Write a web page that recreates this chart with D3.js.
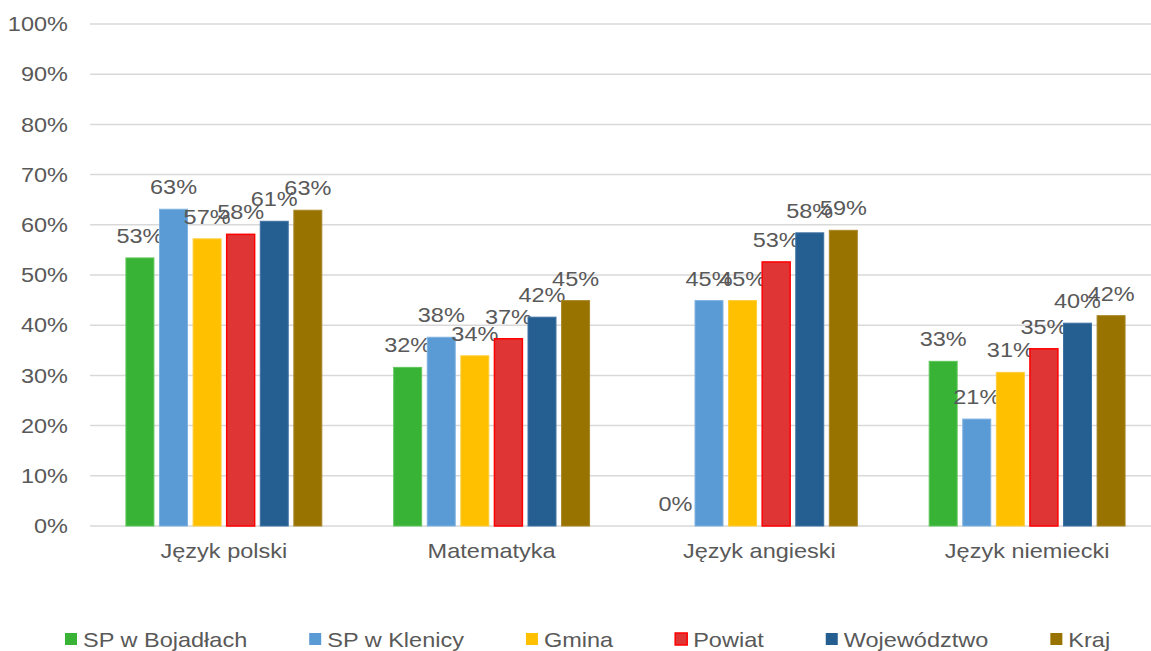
<!DOCTYPE html>
<html><head><meta charset="utf-8">
<script src="https://cdn.jsdelivr.net/npm/d3@7"></script>
<style>body{margin:0;background:#fff}svg{display:block;font-family:"Liberation Sans",Arial,sans-serif}</style>
</head><body><svg id="c" width="1151" height="651"></svg>
<script>
const categories = ["Język polski","Matematyka","Język angieski","Język niemiecki"];
const seriesNames = ["SP w Bojadłach","SP w Klenicy","Gmina","Powiat","Województwo","Kraj"];
const spBojadlach = [53.4, 31.6, 0, 32.8];
const spKlenica   = [63.1, 37.6, 44.9, 21.3];
const gmina       = [57.2, 33.9, 44.9, 30.6];
const powiat      = [58.1, 37.3, 52.6, 35.3];
const wojewodztwo = [60.7, 41.6, 58.4, 40.4];
const kraj        = [62.9, 44.9, 58.9, 41.9];
const yTicks = [0,10,20,30,40,50,60,70,80,90,100];
const fills   = ["#38b335","#5b9bd5","#ffc000","#e03535","#255e91","#997300"];
const strokes = ["#5fc65c","#7fb2e0","#ffcd3a","#ff0000","#3f72a3","#a8862a"];

(function(){
const series = [spBojadlach, spKlenica, gmina, powiat, wojewodztwo, kraj];
const svg = d3.select("#c");
const pLeft = 90, pRight = 1161, pTop = 24, pBottom = 526;
const SX = 1.12, FS = "21px";
const x0 = d3.scaleBand().domain(categories).range([pLeft, pRight]).paddingInner(0).paddingOuter(0);
const x1 = d3.scaleBand().domain(seriesNames).range([0, x0.bandwidth()]).paddingInner(0.167).paddingOuter(1.07);
const y = d3.scaleLinear().domain([0,100]).range([pBottom, pTop]);
const txt = "#595959";

svg.append("g").selectAll("line").data(yTicks).join("line")
  .attr("x1", pLeft).attr("x2", 1151).attr("y1", d=>y(d)).attr("y2", d=>y(d))
  .attr("stroke", "#d9d9d9").attr("stroke-width", 1.5);

const ya = svg.append("g").attr("transform", `translate(68,0)`)
  .call(d3.axisLeft(y).tickValues(yTicks).tickFormat(d=>d+"%").tickSize(0).tickPadding(0));
ya.select(".domain").remove();
ya.selectAll("text").attr("fill", txt).style("font-size",FS).style("font-family","Liberation Sans, Arial, sans-serif")
  .attr("x", 0).attr("transform", `scale(${SX},1)`);

const xa = svg.append("g").attr("transform", `translate(0,${pBottom})`)
  .call(d3.axisBottom(x0).tickSize(0).tickPadding(17));
xa.select(".domain").remove();
xa.selectAll("text").attr("fill", txt).style("font-size",FS).style("font-family","Liberation Sans, Arial, sans-serif")
  .attr("transform", `scale(${SX},1)`);

const groups = svg.append("g").selectAll("g").data(categories).join("g")
  .attr("transform", d=>`translate(${x0(d)},0)`);
groups.each(function(cat, ci){
  const g = d3.select(this);
  seriesNames.forEach((s, si)=>{
    const v = series[si][ci];
    if (v > 0) {
      g.append("rect").attr("x", x1(s)).attr("width", x1.bandwidth())
        .attr("y", y(v)).attr("height", y(0)-y(v))
        .attr("fill", fills[si]).attr("stroke", strokes[si]).attr("stroke-width", si===3?1.5:1);
    }
    g.append("text")
      .attr("transform", `translate(${x1(s)+x1.bandwidth()/2},${y(v)-15}) scale(${SX},1)`)
      .attr("text-anchor","middle").attr("fill", txt).style("font-size",FS)
      .text(Math.round(v)+"%");
  });
});

const lg = svg.append("g");
let lx = 65;
seriesNames.forEach((s, i)=>{
  lg.append("rect").attr("x", lx).attr("y", 633).attr("width", 12).attr("height", 12)
    .attr("fill", fills[i]).attr("stroke", i===3?"#ff0000":"none").attr("stroke-width",1.5);
  const t = lg.append("text").attr("transform", `translate(${lx+18},647) scale(${SX},1)`).attr("fill", txt)
    .style("font-size",FS).text(s);
  lx = lx + 18 + t.node().getComputedTextLength()*SX + 62;
});
})();
</script></body></html>
